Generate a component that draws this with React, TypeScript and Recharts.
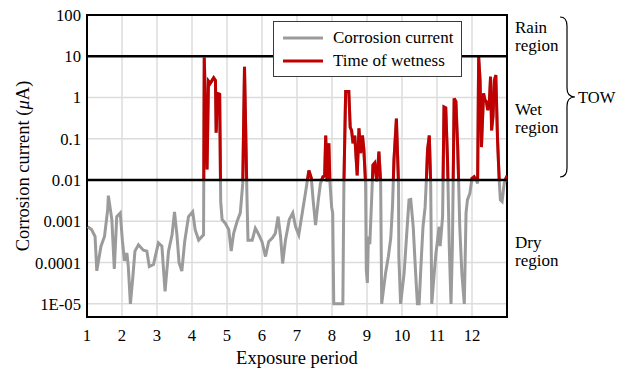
import { LineChart, Line, XAxis, YAxis, CartesianGrid, ReferenceLine, ReferenceArea, Legend } from 'recharts';

const FONT = '"Liberation Serif", Tinos, "Times New Roman", Times, serif';

// exposure period (x) and corrosion current in µA (y)
const periods = [
  1.02, 1.13, 1.23, 1.28, 1.4, 1.5, 1.59, 1.61, 1.71, 1.78, 1.85, 1.95, 2.01, 2.07, 2.14, 2.18, 2.24, 2.31, 2.37, 2.47,
  2.61, 2.71, 2.78, 2.9, 3.04, 3.14, 3.23, 3.33, 3.43, 3.5, 3.57, 3.63, 3.71, 3.79, 3.9, 4.02, 4.09, 4.19, 4.33, 4.35,
  4.43, 4.47, 4.52, 4.62, 4.67, 4.69, 4.73, 4.79, 4.82, 4.86, 4.95, 5.05, 5.12, 5.19, 5.29, 5.38, 5.45, 5.5, 5.57, 5.6,
  5.72, 5.81, 5.89, 6.0, 6.1, 6.19, 6.3, 6.38, 6.46, 6.53, 6.59, 6.67, 6.78, 6.88, 6.96, 7.05, 7.15, 7.24, 7.34, 7.41,
  7.46, 7.53, 7.61, 7.67, 7.74, 7.79, 7.82, 7.86, 7.91, 7.94, 7.99, 8.02, 8.05, 8.31, 8.34, 8.39, 8.48, 8.52, 8.56, 8.6,
  8.65, 8.72, 8.77, 8.82, 8.87, 8.91, 8.96, 8.98, 9.01, 9.04, 9.08, 9.13, 9.17, 9.22, 9.28, 9.34, 9.39, 9.42, 9.53, 9.61,
  9.68, 9.73, 9.77, 9.84, 9.9, 9.91, 9.96, 10.06, 10.13, 10.2, 10.25, 10.32, 10.39, 10.44, 10.49, 10.54, 10.6, 10.66, 10.7, 10.73,
  10.78, 10.82, 10.85, 10.92, 10.97, 11.01, 11.06, 11.09, 11.16, 11.2, 11.25, 11.3, 11.35, 11.4, 11.44, 11.49, 11.54, 11.59, 11.62, 11.65,
  11.71, 11.78, 11.83, 11.87, 11.94, 12.0, 12.06, 12.13, 12.16, 12.19, 12.23, 12.27, 12.33, 12.37, 12.41, 12.45, 12.49, 12.53, 12.56, 12.6,
  12.64, 12.68, 12.73, 12.78, 12.81, 12.86, 12.92, 12.97, 13.0,
];

const current = [
  0.00074, 0.00063, 0.00043, 0.000063, 0.00025, 0.00043, 0.0019, 0.0042, 0.0011, 0.00007, 0.0013, 0.0016, 0.00035, 0.00011, 0.00017, 0.00008, 0.00001, 0.000045, 0.00019, 0.00027,
  0.0002, 0.00019, 0.00008, 0.00009, 0.0003, 0.00025, 0.00002, 0.00019, 0.00047, 0.0017, 0.00047, 0.0001, 0.000062, 0.00032, 0.0013, 0.0017, 0.00063, 0.00035, 0.00047, 9.3,
  0.018, 2.5, 2.2, 3.0, 2.6, 0.14, 1.26, 1.2, 0.003, 0.0011, 0.0009, 0.00063, 0.00019, 0.00051, 0.001, 0.0016, 0.0083, 5.6, 0.004, 0.00035,
  0.00035, 0.00068, 0.00051, 0.00032, 0.00014, 0.00032, 0.0004, 0.00051, 0.0013, 0.00043, 0.000095, 0.00035, 0.0011, 0.0016, 0.00074, 0.00047, 0.0016, 0.0048, 0.017, 0.011,
  0.0033, 0.00081, 0.0033, 0.0083, 0.012, 0.0126, 0.12, 0.009, 0.078, 0.009, 0.0022, 0.0016, 0.00001, 0.00001, 0.008, 1.4, 1.4, 0.19, 0.16, 0.078,
  0.12, 0.013, 0.18, 0.045, 0.12, 0.056, 0.008, 0.000066, 0.000032, 0.00043, 0.00028, 0.003, 0.023, 0.026, 0.009, 0.049, 0.009, 0.00001, 0.000055, 0.00014,
  0.0004, 0.0025, 0.03, 0.31, 0.008, 0.00014, 0.00001, 0.000055, 0.00043, 0.0033, 0.0034, 0.00074, 0.000055, 0.00001, 0.00001, 0.00008, 0.00074, 0.0022, 0.012, 0.054,
  0.12, 0.008, 0.00001, 0.000055, 0.00017, 0.00032, 0.00074, 0.00025, 0.0013, 0.59, 0.56, 0.032, 0.00025, 0.00001, 0.00025, 0.95, 0.79, 0.065, 0.008, 0.00074,
  0.000055, 0.00001, 0.0016, 0.0033, 0.0048, 0.011, 0.012, 0.0095, 0.0083, 9.8, 2.7, 0.063, 1.26, 0.87, 0.79, 0.5, 0.63, 3.2, 0.16, 0.35,
  2.6, 3.5, 0.093, 0.009, 0.0033, 0.003, 0.0083, 0.011, 0.0126,
];

const xTicks = [1, 2, 3, 4, 5, 6, 7, 8, 9, 10, 11, 12];
const yTicks = [0.00001, 0.0001, 0.001, 0.01, 0.1, 1, 10, 100];
const yTickLabels = ['1E-05', '0.0001', '0.001', '0.01', '0.1', '1', '10', '100'];

const WET_LIMIT = 0.01;
const RAIN_LIMIT = 10;

const seriesNames = ['Corrosion current', 'Time of wetness'];
const seriesColors = ['#9b9b9b', '#c00000'];

// region notes on the right, two lines each
const regionNotes = [
  { lines: ['Rain', 'region'], y: 32.5 },
  { lines: ['Wet', 'region'], y: 114.5 },
  { lines: ['Dry', 'region'], y: 247.5 },
];

const data = periods.map((t, i) => ({ t, current: current[i] }));

const renderLegend = () => (
  <div
    style={{
      width: 189,
      height: 56,
      boxSizing: 'border-box',
      border: '1.3px solid #3a3a3a',
      background: '#fff',
      fontFamily: FONT,
      fontSize: 17,
      color: '#000',
      paddingTop: 5,
      paddingLeft: 9,
    }}
  >
    {seriesNames.map((name, i) => (
      <div key={name} style={{ display: 'flex', alignItems: 'center', height: 22.4 }}>
        <svg width={40} height={4} style={{ display: 'block' }}>
          <line x1={0} y1={2} x2={40} y2={2} stroke={seriesColors[i]} strokeWidth={3} />
        </svg>
        <span style={{ marginLeft: 10, whiteSpace: 'nowrap' }}>{name}</span>
      </div>
    ))}
  </div>
);

// clip for the red series: only the part above the 0.01 line
const WetClip = (props: any) => {
  const { x = 0, y = 0, width = 0, height = 0 } = props;
  return (
    <defs>
      <clipPath id="wetClip">
        <rect x={x} y={y - 4} width={width} height={height + 4} />
      </clipPath>
    </defs>
  );
};

const App = () => {
  return (
    <div style={{ position: 'relative', width: 626, height: 369, background: '#fff' }}>
      <style>{'body{margin:0} .wet-line .recharts-line-curve{clip-path:url(#wetClip)}'}</style>
      <LineChart width={626} height={369} data={data} margin={{ top: 15, right: 119, left: 0, bottom: 0 }}>
        <CartesianGrid stroke="#dcdcdc" strokeWidth={1.5} />
        <XAxis
          dataKey="t"
          type="number"
          domain={[1, 13]}
          ticks={xTicks}
          allowDataOverflow
          height={52}
          axisLine={false}
          tickLine={false}
          tickSize={0}
          tickMargin={12}
          tick={{ fontFamily: FONT, fontSize: 16.7, fill: '#000' }}
        />
        <YAxis
          type="number"
          scale="log"
          domain={[4.8e-6, 100]}
          ticks={yTicks}
          allowDataOverflow
          width={87}
          axisLine={false}
          tickLine={false}
          tickSize={0}
          tickMargin={6}
          tickFormatter={(v: number) => yTickLabels[yTicks.indexOf(v)] ?? String(v)}
          tick={{ fontFamily: FONT, fontSize: 16.7, fill: '#000' }}
        />
        <ReferenceArea y1={WET_LIMIT} y2={100} x1={1} x2={13} shape={WetClip} ifOverflow="visible" />
        <Line
          type="linear"
          dataKey="current"
          name={seriesNames[0]}
          stroke={seriesColors[0]}
          strokeWidth={3}
          dot={false}
          isAnimationActive={false}
        />
        <Line
          className="wet-line"
          type="linear"
          dataKey="current"
          name={seriesNames[1]}
          stroke={seriesColors[1]}
          strokeWidth={3}
          dot={false}
          isAnimationActive={false}
        />
        <ReferenceLine y={RAIN_LIMIT} stroke="#000" strokeWidth={2.5} />
        <ReferenceLine y={WET_LIMIT} stroke="#000" strokeWidth={2.5} />
        <ReferenceArea x1={1} x2={13} y1={4.8e-6} y2={100} fill="none" stroke="#000" strokeWidth={2} ifOverflow="visible" />
        <Legend
          layout="horizontal"
          verticalAlign="middle"
          align="center"
          content={renderLegend}
          wrapperStyle={{ left: 273, top: 21, width: 189, height: 56 }}
        />
      </LineChart>
      <svg
        width={626}
        height={369}
        style={{ position: 'absolute', left: 0, top: 0, pointerEvents: 'none', fontFamily: FONT }}
        fill="#000"
      >
        <text x={29} y={166} fontSize={18.5} textAnchor="middle" transform="rotate(-90 29 166)">
          Corrosion current (<tspan fontStyle="italic">μ</tspan>A)
        </text>
        <text x={297} y={364} fontSize={18.5} textAnchor="middle">Exposure period</text>
        {regionNotes.map((note) =>
          note.lines.map((line, i) => (
            <text key={`${note.y}-${i}`} x={515} y={note.y + i * 18} fontSize={17}>
              {line}
            </text>
          ))
        )}
        <path
          d="M 560 17 Q 567 17 567 26 L 567 88 Q 567 97 575 97 Q 567 97 567 106 L 567 168 Q 567 177 560 177"
          fill="none"
          stroke="#000"
          strokeWidth={1.2}
        />
        <text x={578} y={103} fontSize={16.5}>TOW</text>
      </svg>
    </div>
  );
};

export default App;
